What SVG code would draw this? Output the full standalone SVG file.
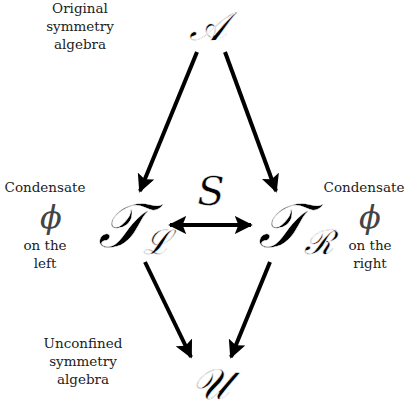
<svg xmlns="http://www.w3.org/2000/svg" width="407" height="411" viewBox="0 0 407 411">
<style>
.lbl{font-family:'DejaVu Serif',serif;font-size:13.5px;fill:#222;text-anchor:middle}
.big{font-family:'DejaVu Serif',serif;font-style:italic;fill:#000;stroke:#fff;stroke-width:0.5px}
.phi{font-family:'DejaVu Serif',serif;font-style:italic;font-size:32px;fill:#444;text-anchor:middle}
.edge{stroke:#000;stroke-width:4;fill:none}
</style>
<defs>
<marker id="ah" viewBox="0 0 10 10" refX="9" refY="5" markerWidth="4.5" markerHeight="4.5" orient="auto-start-reverse" markerUnits="strokeWidth">
<path d="M0,0 L10,5 L0,10 L2,5 Z" fill="#000"/>
</marker>
</defs>
<g id="connectors">
<line class="edge" x1="197" y1="52" x2="140" y2="191" marker-end="url(#ah)"/>
<line class="edge" x1="225" y1="52" x2="276" y2="191" marker-end="url(#ah)"/>
<line class="edge" x1="145" y1="262" x2="191" y2="357" marker-end="url(#ah)"/>
<line class="edge" x1="270" y1="262" x2="231" y2="357" marker-end="url(#ah)"/>
<line class="edge" x1="170" y1="225" x2="251" y2="225" marker-start="url(#ah)" marker-end="url(#ah)"/>
</g>
<g id="nodeA">
<text class="big" x="208" y="40" font-size="40" text-anchor="middle">𝒜</text>
<text class="lbl" x="80" y="13">Original</text>
<text class="lbl" x="80" y="31">symmetry</text>
<text class="lbl" x="80" y="49">algebra</text>
</g>
<g id="nodeTL">
<text class="big" x="98" y="247" font-size="62">𝒯</text>
<text class="big" x="143" y="254" font-size="34">ℒ</text>
<text class="lbl" x="45" y="192">Condensate</text>
<text class="phi" x="51" y="228">ϕ</text>
<text class="lbl" x="45" y="250">on the</text>
<text class="lbl" x="45" y="268">left</text>
</g>
<g id="nodeTR">
<text class="big" x="258" y="247" font-size="62">𝒯</text>
<text class="big" x="304" y="254" font-size="34">ℛ</text>
<text class="lbl" x="364" y="192">Condensate</text>
<text class="phi" x="370" y="228">ϕ</text>
<text class="lbl" x="370" y="250">on the</text>
<text class="lbl" x="370" y="268">right</text>
</g>
<g id="labelS">
<text class="big" x="211" y="205" font-size="40" text-anchor="middle">S</text>
</g>
<g id="nodeU">
<text class="big" x="210" y="399" font-size="43" text-anchor="middle">𝒰</text>
<text class="lbl" x="83" y="348">Unconfined</text>
<text class="lbl" x="83" y="366">symmetry</text>
<text class="lbl" x="83" y="384">algebra</text>
</g>
</svg>
